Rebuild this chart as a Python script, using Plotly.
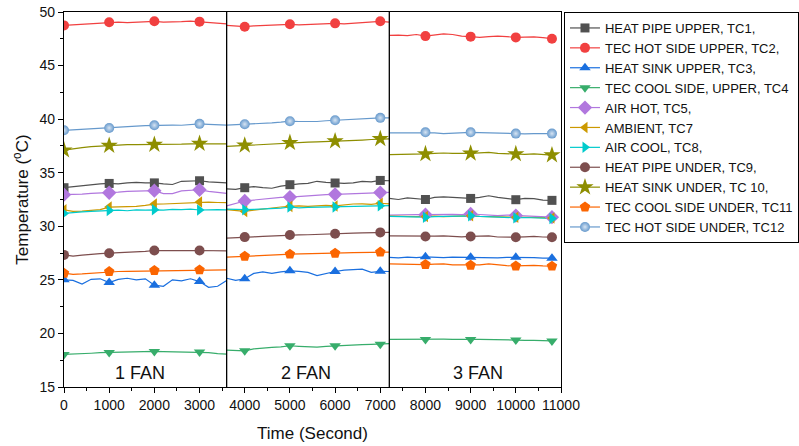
import plotly.graph_objects as go

# ---------------- data ----------------
seg1_t = list(range(0, 3601, 200))
seg2_t = list(range(3600, 7201, 200))
seg3_t = list(range(7200, 10801, 200))
mark_t = [[0, 1000, 2000, 3000], [4000, 5000, 6000, 7000], [8000, 9000, 10000, 10800]]

fan_bounds = [3600, 7200]
fan_labels = ["1 FAN", "2 FAN", "3 FAN"]
fan_label_x = [1680, 5350, 9160]
fan_label_y = 16.3

names = ["HEAT PIPE UPPER, TC1,", "TEC HOT SIDE UPPER, TC2,", "HEAT SINK UPPER, TC3,",
         "TEC COOL SIDE, UPPER, TC4", "AIR HOT, TC5,", "AMBIENT, TC7", "AIR COOL, TC8,",
         "HEAT PIPE UNDER, TC9,", "HEAT SINK UNDER, TC 10,", "TEC COOL SIDE UNDER, TC11",
         "TEC HOT SIDE UNDER, TC12"]
colors = ["#515151", "#F14040", "#1A6FDF", "#37AD6B", "#B177DE", "#CC9900", "#00CBCC",
          "#7D4E4E", "#8E8E00", "#FB6501", "#6699CC"]
symbols = ["square", "circle", "triangle-up", "triangle-down", "diamond", "triangle-left",
           "triangle-right", "circle", "star", "pentagon", "circle"]
msizes = [9, 10, 10, 10, 11, 10, 10, 10, 13, 11, 10]

tc1_s1 = [33.6, 33.7, 33.8, 33.85, 33.95, 34.0, 33.95, 34.05, 34.1, 34.05, 34.05, 33.95, 33.9, 34.2, 34.25, 34.25, 34.15, 34.1, 34.05]
tc1_s2 = [33.5, 33.45, 33.6, 33.7, 33.6, 33.55, 33.75, 33.88, 33.95, 34.0, 34.2, 34.1, 34.04, 34.0, 34.05, 34.2, 34.15, 34.28, 34.25]
tc1_s3 = [32.6, 32.5, 32.65, 32.55, 32.5, 32.7, 32.75, 32.7, 32.65, 32.6, 32.7, 32.85, 32.7, 32.6, 32.48, 32.6, 32.58, 32.45, 32.42]

tc2_s1 = [48.75, 48.8, 48.85, 48.95, 49.0, 49.04, 49.05, 49.0, 49.05, 49.1, 49.13, 49.05, 49.05, 49.1, 49.15, 49.1, 49.0, 48.95, 48.9]
tc2_s2 = [48.75, 48.7, 48.63, 48.7, 48.75, 48.8, 48.82, 48.85, 48.8, 48.85, 48.9, 48.9, 48.94, 48.9, 48.95, 49.0, 49.05, 49.13, 49.05]
tc2_s3 = [47.82, 47.85, 47.8, 47.9, 47.75, 47.85, 47.95, 47.9, 47.75, 47.7, 47.63, 47.7, 47.75, 47.7, 47.63, 47.65, 47.68, 47.6, 47.51]

tc3_s1 = [25.0, 24.95, 24.6, 25.05, 25.1, 24.75, 25.05, 25.15, 25.0, 25.1, 24.5, 24.4, 25.0, 24.9, 25.1, 24.84, 24.3, 24.4, 24.95]
tc3_s2 = [25.15, 24.95, 25.1, 25.6, 25.75, 25.6, 25.75, 25.84, 25.8, 25.7, 25.4, 25.6, 25.78, 25.9, 25.95, 26.0, 25.7, 25.8, 25.78]
tc3_s3 = [27.1, 27.05, 27.12, 27.08, 27.15, 27.1, 27.08, 27.12, 27.1, 27.12, 27.08, 27.1, 27.05, 27.1, 27.1, 27.05, 27.08, 27.02, 27.02]

tc4_s1 = [18.04, 18.1, 18.12, 18.15, 18.2, 18.23, 18.2, 18.22, 18.28, 18.3, 18.32, 18.3, 18.28, 18.3, 18.28, 18.26, 18.2, 18.12, 18.07]
tc4_s2 = [18.45, 18.4, 18.38, 18.55, 18.65, 18.7, 18.75, 18.85, 18.8, 18.75, 18.72, 18.8, 18.85, 18.88, 18.92, 18.95, 18.98, 19.0, 19.05]
tc4_s3 = [19.44, 19.45, 19.42, 19.48, 19.44, 19.5, 19.46, 19.45, 19.48, 19.44, 19.45, 19.42, 19.45, 19.4, 19.38, 19.36, 19.35, 19.32, 19.3]

tc5_s1 = [32.95, 32.95, 33.0, 33.07, 33.1, 33.13, 33.18, 33.26, 33.26, 33.3, 33.32, 33.05, 33.05, 33.3, 33.38, 33.41, 33.25, 33.15, 33.07]
tc5_s2 = [31.9, 32.15, 32.36, 32.45, 32.55, 32.64, 32.7, 32.73, 32.8, 32.84, 32.88, 32.95, 32.98, 33.0, 33.03, 33.06, 33.1, 33.15, 33.17]
tc5_s3 = [31.05, 31.08, 31.05, 31.1, 31.08, 31.1, 31.05, 31.12, 31.08, 31.15, 31.1, 31.05, 31.0, 31.05, 31.0, 30.95, 30.9, 30.88, 30.85]

tc7_s1 = [31.54, 31.39, 31.42, 31.45, 31.55, 31.79, 31.8, 31.85, 31.86, 31.95, 32.07, 32.08, 32.12, 32.14, 32.2, 32.26, 32.25, 32.22, 32.2]
tc7_s2 = [31.55, 31.45, 31.39, 31.5, 31.61, 31.7, 31.8, 31.86, 31.9, 31.85, 31.9, 31.95, 31.9, 32.0, 32.08, 32.1, 32.05, 32.15, 32.1]
tc7_s3 = [30.95, 30.92, 30.95, 30.9, 30.92, 30.95, 30.9, 30.92, 30.95, 30.98, 30.92, 30.9, 30.88, 30.9, 30.85, 30.85, 30.82, 30.8, 30.78]

tc8_s1 = [31.2, 31.3, 31.35, 31.39, 31.45, 31.48, 31.5, 31.45, 31.54, 31.5, 31.54, 31.5, 31.58, 31.55, 31.61, 31.52, 31.5, 31.55, 31.54]
tc8_s2 = [31.6, 31.55, 31.55, 31.58, 31.61, 31.6, 31.7, 31.8, 31.72, 31.76, 31.78, 31.75, 31.8, 31.82, 31.86, 31.84, 31.88, 31.92, 31.92]
tc8_s3 = [30.92, 30.9, 30.88, 30.9, 30.85, 30.9, 30.92, 30.9, 30.95, 30.98, 30.92, 30.88, 30.85, 30.85, 30.79, 30.82, 30.8, 30.75, 30.73]

tc9_s1 = [27.33, 27.21, 27.3, 27.4, 27.45, 27.49, 27.52, 27.55, 27.6, 27.65, 27.74, 27.72, 27.7, 27.72, 27.73, 27.74, 27.72, 27.71, 27.71]
tc9_s2 = [28.9, 28.92, 28.99, 29.02, 29.05, 29.1, 29.15, 29.18, 29.2, 29.21, 29.25, 29.28, 29.3, 29.33, 29.36, 29.38, 29.4, 29.43, 29.43]
tc9_s3 = [29.11, 29.1, 29.08, 29.05, 29.05, 29.08, 29.11, 29.05, 29.02, 29.05, 29.08, 29.11, 29.0, 28.98, 28.98, 29.02, 29.05, 29.0, 28.98]

tc10_s1 = [37.1, 37.25, 37.35, 37.44, 37.5, 37.53, 37.58, 37.62, 37.62, 37.62, 37.62, 37.62, 37.65, 37.66, 37.7, 37.72, 37.72, 37.7, 37.69]
tc10_s2 = [37.45, 37.5, 37.56, 37.6, 37.65, 37.7, 37.75, 37.8, 37.82, 37.85, 37.88, 37.9, 37.95, 37.97, 38.0, 38.05, 38.1, 38.16, 38.16]
tc10_s3 = [36.69, 36.7, 36.72, 36.7, 36.75, 36.8, 36.84, 36.8, 36.78, 36.81, 36.85, 36.9, 36.8, 36.75, 36.75, 36.72, 36.75, 36.7, 36.65]

tc11_s1 = [25.62, 25.52, 25.55, 25.62, 25.7, 25.77, 25.78, 25.8, 25.81, 25.84, 25.87, 25.86, 25.87, 25.88, 25.9, 25.93, 25.93, 25.92, 25.93]
tc11_s2 = [27.12, 27.15, 27.2, 27.24, 27.27, 27.3, 27.35, 27.4, 27.41, 27.43, 27.45, 27.47, 27.49, 27.52, 27.55, 27.56, 27.58, 27.59, 27.59]
tc11_s3 = [26.49, 26.47, 26.45, 26.44, 26.43, 26.46, 26.49, 26.4, 26.38, 26.36, 26.4, 26.49, 26.38, 26.32, 26.3, 26.32, 26.35, 26.3, 26.28]

tc12_s1 = [38.96, 39.0, 39.05, 39.09, 39.13, 39.18, 39.22, 39.3, 39.34, 39.4, 39.43, 39.43, 39.45, 39.43, 39.5, 39.56, 39.52, 39.48, 39.45]
tc12_s2 = [39.45, 39.48, 39.53, 39.58, 39.62, 39.65, 39.72, 39.81, 39.78, 39.75, 39.78, 39.85, 39.9, 39.92, 39.96, 40.0, 40.05, 40.12, 40.12]
tc12_s3 = [38.71, 38.72, 38.75, 38.73, 38.77, 38.72, 38.65, 38.7, 38.75, 38.77, 38.74, 38.71, 38.7, 38.68, 38.65, 38.63, 38.65, 38.65, 38.65]

series = [
    (tc1_s1, tc1_s2, tc1_s3), (tc2_s1, tc2_s2, tc2_s3), (tc3_s1, tc3_s2, tc3_s3),
    (tc4_s1, tc4_s2, tc4_s3), (tc5_s1, tc5_s2, tc5_s3), (tc7_s1, tc7_s2, tc7_s3),
    (tc8_s1, tc8_s2, tc8_s3), (tc9_s1, tc9_s2, tc9_s3), (tc10_s1, tc10_s2, tc10_s3),
    (tc11_s1, tc11_s2, tc11_s3), (tc12_s1, tc12_s2, tc12_s3),
]
seg_times = [seg1_t, seg2_t, seg3_t]

FONT = "Liberation Sans, Arial, sans-serif"
fig = go.Figure()

# line traces
for i, segs in enumerate(series):
    xs, ys = [], []
    for t, v in zip(seg_times, segs):
        xs += t + [None]
        ys += v + [None]
    fig.add_trace(go.Scatter(x=xs, y=ys, mode="lines", showlegend=False, hoverinfo="skip",
                             line=dict(color=colors[i], width=1.2)))

# marker traces
for i, segs in enumerate(series):
    mx, my = [], []
    for t, v, mt in zip(seg_times, segs, mark_t):
        lookup = dict(zip(t, v))
        for m in mt:
            mx.append(m)
            my.append(lookup[m])
    mk = dict(symbol=symbols[i], size=msizes[i], color=colors[i], line=dict(width=0))
    if i == 10:
        mk["gradient"] = dict(type="radial", color="#d6e4f3")
    fig.add_trace(go.Scatter(x=mx, y=my, mode="markers", showlegend=False, marker=mk))

# legend entries
for i in range(len(series)):
    mk = dict(symbol=symbols[i], size=msizes[i], color=colors[i], line=dict(width=0))
    if i == 10:
        mk["gradient"] = dict(type="radial", color="#d6e4f3")
    fig.add_trace(go.Scatter(x=[None], y=[None], mode="lines+markers", name=names[i],
                             line=dict(color=colors[i], width=1.2), marker=mk))

shapes = [dict(type="line", xref="x", yref="paper", x0=b, x1=b, y0=0, y1=1,
               line=dict(color="black", width=1.3)) for b in fan_bounds]
annotations = [dict(x=x, y=fan_label_y, xref="x", yref="y", text=t, showarrow=False,
                    font=dict(family=FONT, size=18, color="#111"))
               for t, x in zip(fan_labels, fan_label_x)]

fig.update_layout(
    width=799, height=446,
    margin=dict(l=64, r=238, t=12, b=59, autoexpand=False),
    plot_bgcolor="white", paper_bgcolor="white",
    font=dict(family=FONT, size=14, color="#111"),
    shapes=shapes, annotations=annotations,
    legend=dict(x=1.006, y=1.0, xanchor="left", yanchor="top",
                bordercolor="black", borderwidth=1, bgcolor="white",
                font=dict(family=FONT, size=13, color="#111"),
                tracegroupgap=0, itemwidth=30),
    xaxis=dict(range=[0, 11000], dtick=1000, tick0=0, tickformat="d", automargin=False,
               showgrid=False, zeroline=False,
               showline=True, linecolor="black", linewidth=1.3, mirror=True,
               ticks="outside", ticklen=5, tickwidth=1, tickcolor="black",
               minor=dict(dtick=500, ticks="outside", ticklen=3, tickcolor="black", showgrid=False),
               tickfont=dict(size=14),
               title=dict(text="Time (Second)", font=dict(size=17), standoff=15)),
    yaxis=dict(range=[15, 50], dtick=5, tick0=15, automargin=False,
               showgrid=False, zeroline=False,
               showline=True, linecolor="black", linewidth=1.3, mirror=True,
               ticks="outside", ticklen=5, tickwidth=1, tickcolor="black",
               minor=dict(dtick=2.5, ticks="outside", ticklen=3, tickcolor="black", showgrid=False),
               tickfont=dict(size=14),
               title=dict(text="Temperature (<sup>o</sup>C)", font=dict(size=17), standoff=6)),
)

fig.write_html("out.html", config={"displayModeBar": False},
               post_script="document.body.style.margin='0';document.body.style.overflow='hidden';")
